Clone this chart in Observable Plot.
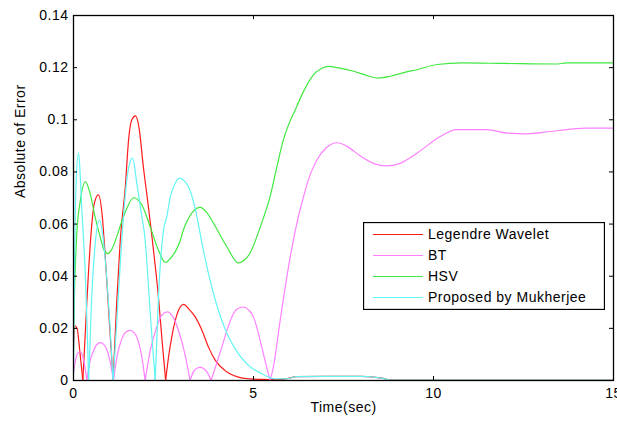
<!DOCTYPE html>
<html><head><meta charset="utf-8">
<script src="https://cdn.jsdelivr.net/npm/d3@7"></script>
<script src="https://cdn.jsdelivr.net/npm/@observablehq/plot@0.6"></script>
<style>
html,body{margin:0;padding:0;background:#fff;overflow:hidden;}
#wrap{position:relative;width:617px;height:424px;}
#wrap svg text{letter-spacing:0.5px}
#legend{position:absolute;left:363px;top:222px;}
</style></head><body><div id="wrap"></div>
<script>
const xTicks = [0, 5, 10, 15];
const yTicks = [0, 0.02, 0.04, 0.06, 0.08, 0.1, 0.12, 0.14];
const seriesNames = ["Legendre Wavelet", "BT", "HSV", "Proposed by Mukherjee"];
const seriesColors = ["#ff1a1a", "#ff80ff", "#40e840", "#60f4f4"];

// [time, absolute error]
const legendre = [[0,0.013],[0.04,0.021],[0.1,0.020],[0.17,0.012],[0.26,0],[0.37,0.03],[0.48,0.055],[0.58,0.068],[0.69,0.0712],[0.8,0.063],[0.87,0.05],[0.98,0.026],[1.1,0],[1.2,0.03],[1.3,0.054],[1.44,0.0744],[1.53,0.0923],[1.62,0.1],[1.72,0.1015],[1.82,0.097],[1.94,0.082],[2.08,0.0667],[2.18,0.0551],[2.27,0.044],[2.36,0.032],[2.46,0.0154],[2.56,0],[2.64,0.009],[2.73,0.0167],[2.92,0.027],[3.06,0.0292],[3.2,0.0275],[3.38,0.0244],[3.57,0.0192],[3.75,0.0128],[3.94,0.0077],[4.21,0.0038],[4.58,0.0013],[4.91,0.0006],[5.2,0.0004],[5.6,0.0003],[5.9,0.0006],[6.2,0.0015],[7.0,0.0016],[8.0,0.0016],[8.6,0.0008],[8.8,0.0002],[10,0.0002],[15,0.0002]];
const bt = [[0,0.003],[0.06,0.008],[0.12,0.0105],[0.19,0.011],[0.26,0.009],[0.32,0.005],[0.37,0],[0.46,0.0075],[0.56,0.0115],[0.65,0.0138],[0.75,0.0145],[0.85,0.0137],[0.94,0.0113],[1.03,0.0065],[1.11,0],[1.22,0.01],[1.33,0.0155],[1.45,0.0185],[1.57,0.0192],[1.69,0.0183],[1.8,0.015],[1.9,0.009],[1.99,0],[2.14,0.012],[2.3,0.02],[2.45,0.025],[2.6,0.0263],[2.76,0.0245],[2.92,0.019],[3.08,0.011],[3.24,0],[3.33,0.0033],[3.43,0.0047],[3.52,0.005],[3.62,0.0045],[3.72,0.003],[3.82,0],[3.94,0.005],[4.12,0.0128],[4.28,0.02],[4.4,0.0244],[4.55,0.0275],[4.72,0.0282],[4.87,0.027],[5.0,0.0244],[5.12,0.019],[5.23,0.0128],[5.35,0.006],[5.46,0],[5.55,0.005],[5.74,0.023],[6.02,0.0474],[6.2,0.06],[6.39,0.0705],[6.55,0.078],[6.76,0.0846],[7.0,0.089],[7.32,0.0912],[7.6,0.0898],[7.96,0.0862],[8.33,0.0833],[8.7,0.0823],[9.07,0.0833],[9.54,0.0872],[10.19,0.0936],[10.65,0.0962],[11.48,0.0962],[12.04,0.0949],[12.6,0.0946],[13.24,0.0955],[13.7,0.0962],[14.26,0.0968],[15,0.0968]];
const hsv = [[0,0.018],[0.03,0.035],[0.09,0.056],[0.19,0.069],[0.33,0.0763],[0.46,0.0718],[0.6,0.0628],[0.74,0.0551],[0.85,0.05],[0.95,0.0487],[1.05,0.05],[1.2,0.0551],[1.34,0.061],[1.48,0.066],[1.67,0.0701],[1.9,0.0673],[2.13,0.059],[2.36,0.05],[2.55,0.0453],[2.69,0.0468],[2.85,0.05],[2.96,0.0535],[3.06,0.058],[3.3,0.0645],[3.52,0.0664],[3.7,0.0645],[3.89,0.0603],[4.26,0.0513],[4.58,0.0451],[4.75,0.0462],[4.91,0.049],[5.19,0.059],[5.46,0.0705],[5.65,0.082],[5.83,0.0923],[6.0,0.099],[6.16,0.1038],[6.39,0.1109],[6.67,0.1173],[6.9,0.1198],[7.08,0.1205],[7.4,0.1198],[7.78,0.1186],[8.1,0.1172],[8.47,0.116],[8.8,0.1167],[9.2,0.1182],[9.54,0.1192],[10.1,0.1212],[10.8,0.1218],[12,0.1216],[13.4,0.1214],[13.7,0.1218],[15,0.1218]];
const mukherjee = [[0,0.002],[0.03,0.045],[0.07,0.075],[0.14,0.0872],[0.19,0.078],[0.23,0.066],[0.28,0.054],[0.33,0.04],[0.38,0.02],[0.42,0],[0.5,0.03],[0.6,0.052],[0.72,0.0615],[0.82,0.055],[0.92,0.04],[1.0,0.024],[1.1,0],[1.2,0.022],[1.3,0.045],[1.4,0.065],[1.5,0.079],[1.64,0.0853],[1.76,0.0756],[1.9,0.0628],[1.99,0.054],[2.04,0.045],[2.13,0.026],[2.22,0.009],[2.27,0],[2.36,0.032],[2.5,0.0577],[2.59,0.0628],[2.69,0.0705],[2.82,0.0755],[2.96,0.0776],[3.08,0.0765],[3.19,0.0744],[3.38,0.066],[3.57,0.0526],[3.75,0.041],[3.94,0.0308],[4.12,0.023],[4.31,0.0167],[4.58,0.0103],[4.86,0.0058],[5.23,0.0026],[5.6,0.0006],[5.9,0.0006],[6.2,0.0015],[7.0,0.0016],[8.0,0.0016],[8.6,0.0008],[8.8,0.0002],[10,0.0002],[15,0.0002]];

const allSeries = [legendre, bt, hsv, mukherjee];
// split each series into lobes at its zeros, so the cusps stay sharp and the lobes smooth
const rows = [];
allSeries.forEach((s, i) => {
  let seg = 0;
  s.forEach(([t, v], j) => {
    rows.push({t, v, series: seriesNames[i], seg: i + "-" + seg});
    if (v === 0 && j > 0 && j < s.length - 1) {
      seg++;
      rows.push({t, v, series: seriesNames[i], seg: i + "-" + seg});
    }
  });
});

const W = 617, H = 424, mL = 73, mR = 4, mT = 15, mB = 44;
const frameW = W - mL - mR, frameH = H - mT - mB;

const chart = Plot.plot({
  width: W, height: H,
  marginLeft: mL, marginRight: mR, marginTop: mT, marginBottom: mB,
  style: {fontFamily: '"Liberation Sans", Arial, sans-serif', fontSize: "14px", background: "#fff", color: "#000"},
  x: {domain: [0, 15]},
  y: {domain: [0, 0.14]},
  color: {domain: seriesNames, range: seriesColors},
  marks: [
    Plot.line(rows, {x: "t", y: "v", z: "seg", stroke: "series", strokeWidth: 1.2, curve: "monotone-x", clip: true}),
    Plot.frame({stroke: "#000", strokeWidth: 1.3}),
    Plot.tickX(xTicks, {x: d => d, insetTop: frameH - 4, stroke: "#000"}),
    Plot.tickX(xTicks, {x: d => d, insetBottom: frameH - 4, stroke: "#000"}),
    Plot.tickY(yTicks, {y: d => d, insetRight: frameW - 4, stroke: "#000"}),
    Plot.tickY(yTicks, {y: d => d, insetLeft: frameW - 4, stroke: "#000"}),
    Plot.axisX(xTicks, {tickSize: 0, tickPadding: 8, label: null, tickFormat: d => String(d)}),
    Plot.axisY(yTicks, {tickSize: 0, tickPadding: 5, label: null, tickFormat: d => String(d)}),
    Plot.text(["Time(sec)"], {frameAnchor: "bottom", dy: 31, fontSize: 14}),
    Plot.text(["Absolute of Error"], {frameAnchor: "left", rotate: -90, dx: -53, fontSize: 14})
  ]
});
const wrap = document.getElementById("wrap");
wrap.appendChild(chart);

// legend box inside the axes (top-right of the lower half)
const lw = 242, lh = 88;
const lsvg = d3.create("svg").attr("id", "legend").attr("width", lw).attr("height", lh)
  .style("font-family", '"Liberation Sans", Arial, sans-serif').style("font-size", "14px");
lsvg.append("rect").attr("x", 0.5).attr("y", 0.5).attr("width", lw - 1).attr("height", lh - 1)
  .attr("fill", "#fff").attr("stroke", "#000").attr("stroke-width", 1.3);
seriesNames.forEach((name, i) => {
  const cy = 12.5 + i * 21;
  lsvg.append("line").attr("x1", 10).attr("x2", 60).attr("y1", cy).attr("y2", cy)
    .attr("stroke", seriesColors[i]).attr("stroke-width", 1.2);
  lsvg.append("text").attr("x", 65).attr("y", cy).attr("dy", "0.35em").attr("fill", "#000").text(name);
});
wrap.appendChild(lsvg.node());
</script></body></html>
